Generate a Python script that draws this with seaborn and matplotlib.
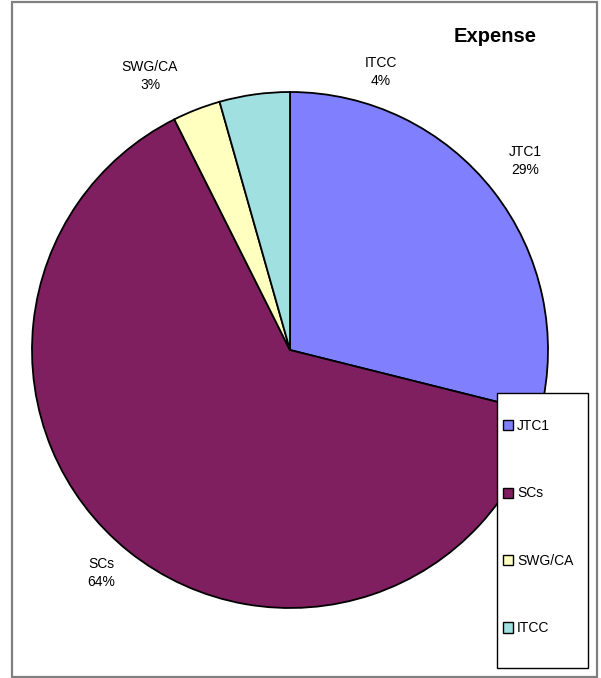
import matplotlib
matplotlib.use("Agg")
import matplotlib.pyplot as plt
from matplotlib.patches import Rectangle
import seaborn as sns

sns.set_style("white")
plt.rcParams['font.family'] = ['Liberation Sans', 'DejaVu Sans']
plt.rcParams['text.color'] = 'black'

categories = ["JTC1", "SCs", "SWG/CA", "ITCC"]
values = [28.9, 63.7, 3.0, 4.4]
colors = ["#8080FF", "#7F1F5F", "#FFFFC0", "#A0E0E0"]
title = "Expense"

W, H = 601, 678
fig = plt.figure(figsize=(W / 100, H / 100), dpi=100)

# outer frame
fig.patches.append(Rectangle((12 / W, 1 / H), 585 / W, 675 / H, transform=fig.transFigure,
                             fill=False, edgecolor="#808080", linewidth=1.6))

cx, cy, r = 290, 350, 258
pad = 1.02
ax = fig.add_axes([(cx - r * pad) / W, (H - cy - r * pad) / H, 2 * r * pad / W, 2 * r * pad / H])
wedges, _ = ax.pie(values, colors=colors, startangle=90, counterclock=False,
                   wedgeprops=dict(edgecolor="black", linewidth=1.3))
ax.set_xlim(-pad, pad)
ax.set_ylim(-pad, pad)
ax.set_aspect("equal")
ax.axis("off")

# data labels (positions in figure pixels)
label_pos = [(525, 161), (101, 573), (150, 76), (381, 72)]
total = sum(values)
for cat, v, (px, py) in zip(categories, values, label_pos):
    fig.text(px / W, 1 - py / H, f"{cat}\n{v / total * 100:.0f}%", ha="center", va="center",
             fontsize=10, color="black", linespacing=1.45)

fig.text(495 / W, 1 - 36 / H, title, ha="center", va="center", fontsize=14.5,
         fontweight="bold", color="black")

# legend box
fig.patches.append(Rectangle((497 / W, 1 - 668 / H), 91 / W, 275 / H, transform=fig.transFigure,
                             facecolor="white", edgecolor="black", linewidth=1.0, zorder=5))
leg = fig.legend(wedges, categories, loc="upper left", bbox_to_anchor=(503 / W, 1 - 419 / H),
                 frameon=False, fontsize=10, labelcolor="black",
                 handlelength=0.75, handleheight=0.75, handletextpad=0.25,
                 labelspacing=3.85, borderpad=0, borderaxespad=0)
leg.set_zorder(6)
for h in leg.legend_handles:
    h.set_edgecolor("black")
    h.set_linewidth(1.0)

fig.savefig("out.png", dpi=100)
